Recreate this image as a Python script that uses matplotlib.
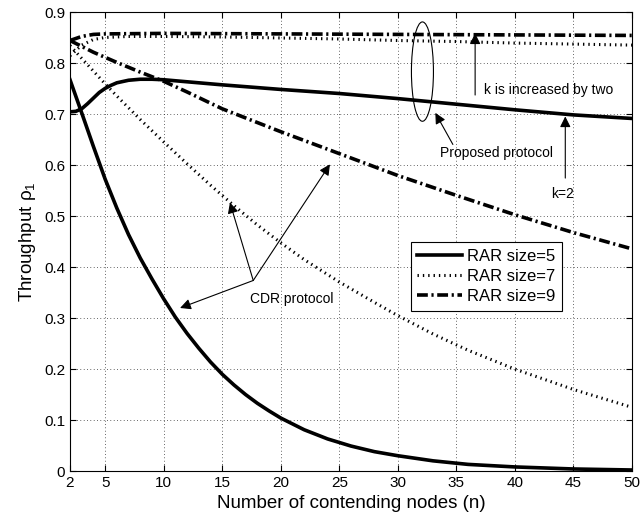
import matplotlib
matplotlib.use('Agg')
import matplotlib.pyplot as plt
from matplotlib.patches import Ellipse

plt.rcParams['font.family'] = ['Liberation Sans', 'DejaVu Sans']
plt.rcParams['mathtext.fontset'] = 'custom'
plt.rcParams['mathtext.rm'] = 'Liberation Sans'
plt.rcParams['mathtext.it'] = 'Liberation Sans:italic'

# CDR protocol
n_cdr5 = [2, 3, 4, 5, 6, 7, 8, 9, 10, 11, 12, 13, 14, 15, 16, 17, 18, 19, 20, 22, 24, 26, 28, 30, 33, 36, 40, 45, 50]
cdr5 = [0.768, 0.703, 0.637, 0.573, 0.516, 0.464, 0.418, 0.377, 0.338, 0.302, 0.270, 0.241, 0.214, 0.190,
        0.169, 0.150, 0.133, 0.118, 0.104, 0.081, 0.063, 0.049, 0.038, 0.030, 0.020, 0.013, 0.008, 0.004, 0.002]
n_cdr7 = [2, 3, 4, 5, 6, 8, 10, 12, 14, 16, 18, 20, 22, 25, 28, 30, 33, 36, 40, 45, 50]
cdr7 = [0.835, 0.81, 0.785, 0.76, 0.736, 0.69, 0.646, 0.603, 0.561, 0.521, 0.483, 0.448, 0.415, 0.371,
        0.331, 0.305, 0.269, 0.237, 0.2, 0.16, 0.125]
n_cdr9 = [2, 4, 6, 8, 10, 12, 15, 20, 25, 30, 35, 40, 45, 50]
cdr9 = [0.845, 0.822, 0.802, 0.783, 0.765, 0.744, 0.711, 0.666, 0.623, 0.58, 0.541, 0.503, 0.468, 0.436]

# proposed protocol
n_pr5 = [2, 2.5, 3, 3.5, 4, 4.5, 5, 5.5, 6, 7, 8, 9, 10, 12, 15, 20, 25, 30, 35, 40, 45, 50]
pr5 = [0.705, 0.706, 0.711, 0.721, 0.732, 0.743, 0.751, 0.757, 0.762, 0.767, 0.769, 0.769, 0.768, 0.764,
       0.758, 0.749, 0.741, 0.731, 0.72, 0.709, 0.699, 0.692]
n_pr7 = [2, 3, 4, 5, 7, 10, 15, 20, 25, 30, 35, 40, 45, 50]
pr7 = [0.815, 0.836, 0.847, 0.851, 0.853, 0.853, 0.852, 0.85, 0.848, 0.845, 0.843, 0.84, 0.838, 0.836]
n_pr9 = [2, 3, 4, 5, 10, 20, 30, 40, 50]
pr9 = [0.845, 0.853, 0.857, 0.858, 0.859, 0.858, 0.857, 0.856, 0.855]

xticks = [2, 5, 10, 15, 20, 25, 30, 35, 40, 45, 50]
yticks = [0, 0.1, 0.2, 0.3, 0.4, 0.5, 0.6, 0.7, 0.8, 0.9]
ylabels = ['0', '0.1', '0.2', '0.3', '0.4', '0.5', '0.6', '0.7', '0.8', '0.9']

fig = plt.figure(figsize=(6.41, 5.23), dpi=100)
ax = fig.add_axes([0.1092, 0.0994, 0.8768, 0.8767])

dot = (0, (0.45, 1.3))
dashdot = (0, (3.0, 1.0, 0.6, 1.0))

ax.plot(n_cdr5, cdr5, color='k', lw=2.6, label='RAR size=5')
ax.plot(n_cdr7, cdr7, color='k', lw=2.2, linestyle=dot, label='RAR size=7')
ax.plot(n_cdr9, cdr9, color='k', lw=2.6, linestyle=dashdot, label='RAR size=9')
ax.plot(n_pr5, pr5, color='k', lw=2.6)
ax.plot(n_pr7, pr7, color='k', lw=2.2, linestyle=dot)
ax.plot(n_pr9, pr9, color='k', lw=2.6, linestyle=dashdot)

ax.set_xlim(2, 50)
ax.set_ylim(0, 0.9)
ax.set_xticks(xticks)
ax.set_yticks(yticks)
ax.set_yticklabels(ylabels)
ax.tick_params(direction='in', top=True, right=True, labelsize=11, length=4, width=0.8)
ax.grid(True, color='k', linestyle=(0, (0.8, 3.2)), lw=0.6)
for s in ax.spines.values():
    s.set_linewidth(0.8)

ax.set_xlabel('Number of contending nodes (n)', fontsize=13.5, labelpad=4)
ax.set_ylabel('Throughput ρ$_1$', fontsize=13.5, labelpad=4)

leg = ax.legend(loc='lower left', bbox_to_anchor=(0.606, 0.35), borderaxespad=0, fontsize=12,
                handlelength=2.7, fancybox=False, framealpha=1, edgecolor='k',
                borderpad=0.4, labelspacing=0.3, handletextpad=0.3)
leg.get_frame().set_linewidth(0.8)

arrow = dict(arrowstyle='-|>', color='k', lw=0.8, mutation_scale=16, shrinkA=0, shrinkB=0)

# CDR protocol arrows
ax.annotate('', xy=(15.66, 0.527), xytext=(17.65, 0.374), arrowprops=arrow)
ax.annotate('', xy=(24.2, 0.602), xytext=(17.65, 0.374), arrowprops=arrow)
ax.annotate('', xy=(11.4, 0.32), xytext=(17.65, 0.374), arrowprops=arrow)
ax.text(20.9, 0.338, 'CDR protocol', fontsize=10, ha='center', va='center')

# proposed protocol
ax.add_patch(Ellipse((32.1, 0.784), 1.88, 0.195, fill=False, color='k', lw=0.8))
ax.annotate('', xy=(33.2, 0.703), xytext=(34.7, 0.641), arrowprops=arrow)
ax.text(38.4, 0.624, 'Proposed protocol', fontsize=10, ha='center', va='center')

ax.annotate('', xy=(36.6, 0.859), xytext=(36.6, 0.738), arrowprops=arrow)
ax.text(42.9, 0.748, 'k is increased by two', fontsize=10, ha='center', va='center')

ax.annotate('', xy=(44.3, 0.696), xytext=(44.3, 0.575), arrowprops=arrow)
ax.text(44.1, 0.543, 'k=2', fontsize=10, ha='center', va='center')

plt.savefig('out.png', dpi=100)
